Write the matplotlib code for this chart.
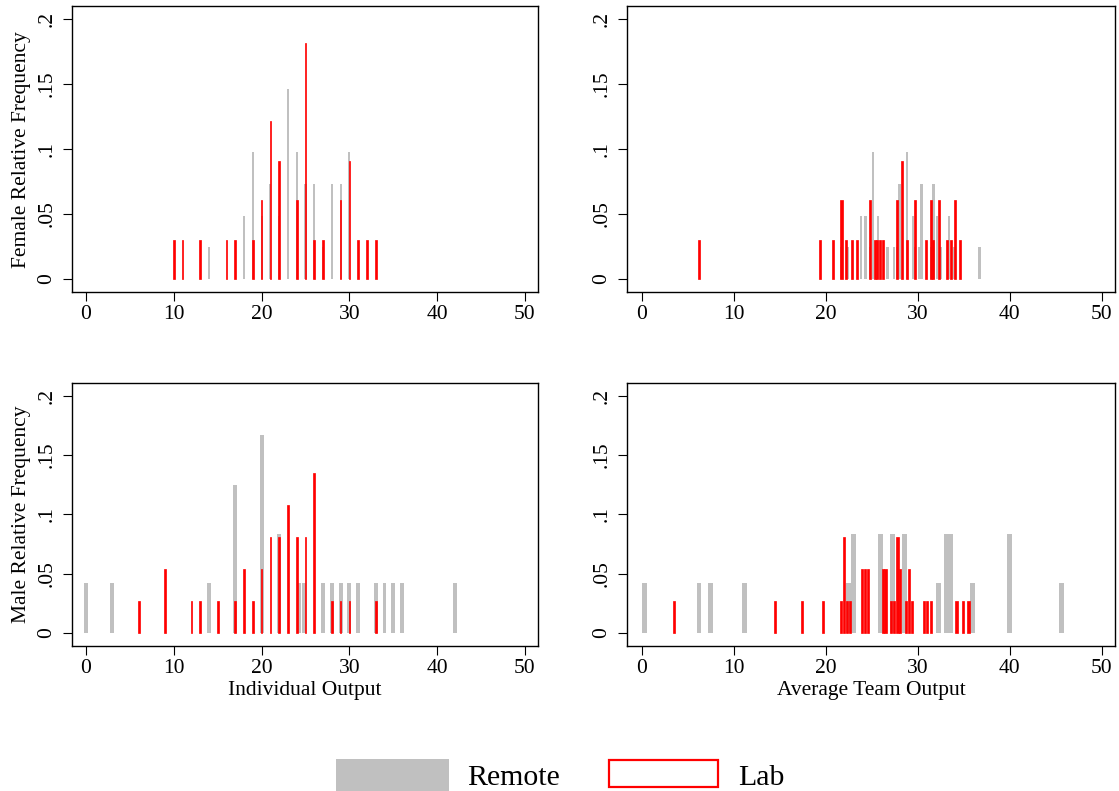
import matplotlib
matplotlib.use("Agg")
import matplotlib.pyplot as plt
from matplotlib.patches import Rectangle
import numpy as np

plt.rcParams['font.family'] = ['Liberation Serif', 'DejaVu Serif']

# female, individual output (integer scores)
lab_f_ind = [10, 11, 13, 16, 17, 19, 20, 21, 22, 24, 25, 26, 27, 29, 30, 31, 32, 33]
lab_f_ind_n = [1, 1, 1, 1, 1, 1, 2, 4, 3, 2, 6, 1, 1, 2, 3, 1, 1, 1]
rem_f_ind = [14, 18, 19, 20, 21, 22, 23, 24, 25, 26, 27, 28, 29, 30]
rem_f_ind_n = [1, 2, 4, 2, 3, 2, 6, 4, 3, 3, 1, 3, 3, 4]

# female, average team output
lab_f_team = [6.2, 19.4, 20.8, 21.7, 22.2, 22.8, 23.4, 24.8, 25.3, 25.6, 25.9, 26.2,
              27.7, 28.3, 28.8, 29.7, 30.9, 31.4, 31.7, 32.3, 33.2, 33.6, 34.0, 34.6]
lab_f_team_n = [1, 1, 1, 2, 1, 1, 1, 2, 1, 1, 1, 1, 2, 3, 1, 2, 1, 2, 1, 2, 1, 1, 2, 1]
rem_f_team = [21.7, 22.4, 23.8, 24.3, 24.8, 25.1, 25.7, 26.7, 27.4, 27.7, 28.0, 28.8, 29.5,
              29.7, 30.1, 30.4, 31.4, 31.7, 32.1, 32.5, 33.4, 34.0, 36.7]
rem_f_team_n = [1, 1, 2, 2, 1, 4, 2, 1, 1, 1, 3, 4, 2, 1, 1, 3, 1, 3, 2, 1, 2, 1, 1]

# male, individual output
lab_m_ind = [6, 9, 12, 13, 15, 17, 18, 19, 20, 21, 22, 23, 24, 25, 26, 28, 29, 30, 33]
lab_m_ind_n = [1, 2, 1, 1, 1, 1, 2, 1, 2, 3, 3, 4, 3, 3, 5, 1, 1, 1, 1]
rem_m_ind = [0, 3, 14, 17, 20, 22, 24.25, 24.8, 27, 28, 29, 30, 31, 33, 34, 35, 36, 42]
rem_m_ind_n = [1, 1, 1, 3, 4, 2, 1, 1, 1, 1, 1, 1, 1, 1, 1, 1, 1, 1]

# male, average team output
lab_m_team = [3.5, 14.5, 17.4, 19.7, 21.65, 21.96, 22.3, 22.6, 23.94, 24.27, 24.59, 26.2,
              26.5, 27.1, 27.4, 27.8, 28.1, 28.75, 29.05, 29.4, 30.7, 31.0, 31.4, 34.2,
              34.9, 35.5]
lab_m_team_n = [1, 1, 1, 1, 1, 3, 1, 1, 2, 2, 2, 2, 2, 1, 1, 3, 2, 1, 2, 1, 1, 1, 1, 1, 1, 1]
rem_m_team = [0.24, 6.2, 7.5, 11.2, 22.5, 23.05, 25.9, 27.2, 28.6, 32.3, 33.15, 33.6,
              35.9, 40.0, 45.6]
rem_m_team_n = [1, 1, 1, 1, 1, 2, 2, 2, 2, 1, 2, 2, 1, 2, 1]

N_LAB_F, N_REM_F = 33, 41
N_LAB_M, N_REM_M = 37, 24

GRAY = '#c0c0c0'

fig = plt.figure(figsize=(11.19, 7.91), dpi=100)

W, H = 1119, 791
def px_axes(l, t, r, b):
    return fig.add_axes([l / W, 1 - b / H, (r - l) / W, (b - t) / H])

axes = [
    px_axes(72, 6, 537.7, 292.3),
    px_axes(627.3, 6, 1115, 292.3),
    px_axes(72, 382.7, 537.7, 646),
    px_axes(627.3, 382.7, 1115, 646),
]

panels = [
    (rem_f_ind, rem_f_ind_n, N_REM_F, 0.23, lab_f_ind, lab_f_ind_n, N_LAB_F, 0.18),
    (rem_f_team, rem_f_team_n, N_REM_F, 0.25, lab_f_team, lab_f_team_n, N_LAB_F, 0.22),
    (rem_m_ind, rem_m_ind_n, N_REM_M, 0.45, lab_m_ind, lab_m_ind_n, N_LAB_M, 0.18),
    (rem_m_team, rem_m_team_n, N_REM_M, 0.54, lab_m_team, lab_m_team_n, N_LAB_M, 0.25),
]

for ax, (rx, rn, rtot, rw, lx, ln, ltot, lw) in zip(axes, panels):
    ax.bar(rx, np.array(rn) / rtot, width=rw, color=GRAY, linewidth=0)
    ax.bar(lx, np.array(ln) / ltot, width=lw, facecolor='red',
           edgecolor='red', linewidth=0.5)
    ax.set_xlim(-1.6, 51.45)
    ax.set_xticks([0, 10, 20, 30, 40, 50])
    ax.set_yticks([0, 0.05, 0.1, 0.15, 0.2])
    ax.set_yticklabels(['0', '.05', '.1', '.15', '.2'])
    ax.tick_params(axis='both', direction='out', length=6.3, width=0.8,
                   labelsize=15.5, color='black')
    ax.tick_params(axis='x', pad=3)
    ax.tick_params(axis='y', pad=5, labelrotation=90)
    for lab in ax.get_yticklabels():
        lab.set_va('center')
    for s in ax.spines.values():
        s.set_linewidth(1.0)
        s.set_color('black')

for ax in axes[:2]:
    ax.set_ylim(-0.0102, 0.21)
for ax in axes[2:]:
    ax.set_ylim(-0.0112, 0.2112)

axes[0].set_ylabel('Female Relative Frequency', fontsize=15.5)
axes[2].set_ylabel('Male Relative Frequency', fontsize=15.5)
axes[0].yaxis.set_label_coords(-0.087, 0.5)
axes[2].yaxis.set_label_coords(-0.087, 0.5)

axes[2].set_xlabel('Individual Output', fontsize=15.5)
axes[3].set_xlabel('Average Team Output', fontsize=15.5)
axes[2].xaxis.set_label_coords(0.5, -0.133)
axes[3].xaxis.set_label_coords(0.5, -0.133)

# legend
fig.patches.append(Rectangle((335.7 / W, 0), 113 / W, 32 / H, transform=fig.transFigure,
                             facecolor=GRAY, edgecolor='none'))
fig.patches.append(Rectangle((608.5 / W, 4.2 / H), 109.3 / W, 26.6 / H,
                             transform=fig.transFigure, facecolor='white',
                             edgecolor='red', linewidth=1.6))
fig.text(466.7 / W, 6 / H, 'Remote', fontsize=21.5, va='baseline', ha='left')
fig.text(737.7 / W, 6 / H, 'Lab', fontsize=21.5, va='baseline', ha='left')

fig.savefig('out.png', dpi=100)
